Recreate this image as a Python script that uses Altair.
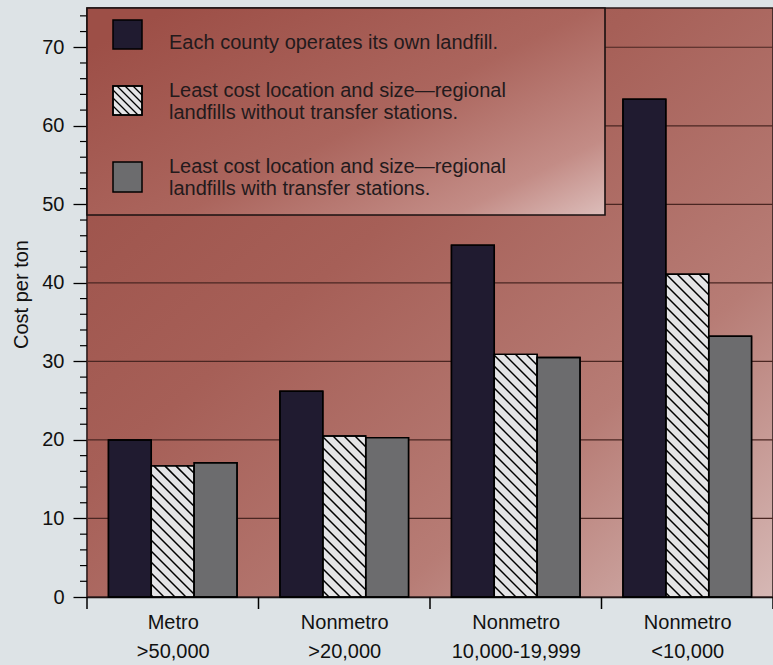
import altair as alt
import pandas as pd

# ---------------- data ----------------
categories = ["Metro", "Nonmetro", "Nonmetro", "Nonmetro"]
category_sub = [">50,000", ">20,000", "10,000-19,999", "<10,000"]
series = [
    "Each county operates its own landfill.",
    "Least cost location and size\u2014regional landfills without transfer stations.",
    "Least cost location and size\u2014regional landfills with transfer stations.",
]
own_landfill = [20.0, 26.2, 44.8, 63.4]
regional_no_transfer = [16.7, 20.5, 30.9, 41.1]
regional_transfer = [17.1, 20.3, 30.5, 33.2]
y_ticks = [0, 10, 20, 30, 40, 50, 60, 70]
y_minor = [2, 4, 6, 8, 12, 14, 16, 18, 22, 24, 26, 28, 32, 34, 36, 38,
           42, 44, 46, 48, 52, 54, 56, 58, 62, 64, 66, 68, 72, 74]
grid_values = [10, 20, 30, 40, 50, 60, 70]

legend_lines = [
    ["Each county operates its own landfill."],
    ["Least cost location and size\u2014regional", "landfills without transfer stations."],
    ["Least cost location and size\u2014regional", "landfills with transfer stations."],
]

# ---------------- layout / style ----------------
W, H = 686, 589
Y_MAX = 75
N = len(categories)
KX = W / N          # px per x unit
KY = H / Y_MAX      # px per y unit
BAR_W = 0.25
FILLS = ["#201b30", "#e4e4e6", "#6c6c6e"]
X_DOM = [-0.5, N - 0.5]

all_values = [own_landfill, regional_no_transfer, regional_transfer]
rows = []
for si, vals in enumerate(all_values):
    for ci, v in enumerate(vals):
        x0 = ci - 1.5 * BAR_W + si * BAR_W
        rows.append({"cat": ci, "series": series[si], "value": v,
                     "x0": x0, "x1": x0 + BAR_W})
bars_df = pd.DataFrame(rows)


def hatch(X0, X1, Y0, Y1, step):
    """Diagonal lines X + Y = c clipped to a rectangle (pixel space, y up)."""
    segs = []
    c = (int((X0 + Y0) // step) + 1) * step
    while c < X1 + Y1:
        xs = max(X0, c - Y1)
        xe = min(X1, c - Y0)
        if xe > xs:
            segs.append((xs, c - xs, xe, c - xe))
        c += step
    return segs


hatch_rows = []
for _, r in bars_df[bars_df["series"] == series[1]].iterrows():
    for xs, ys, xe, ye in hatch((r.x0 - X_DOM[0]) * KX, (r.x1 - X_DOM[0]) * KX,
                                0, r.value * KY, 11):
        hatch_rows.append({"x0": xs / KX + X_DOM[0], "value": ys / KY,
                           "x1": xe / KX + X_DOM[0], "value2": ye / KY})
hatch_df = pd.DataFrame(hatch_rows)

xs_scale = alt.Scale(domain=X_DOM, nice=False, zero=False)
ys_scale = alt.Scale(domain=[0, Y_MAX], nice=False, zero=True)

label_expr = "[" + ",".join(
    f"['{a}','{b}']" for a, b in zip(categories, category_sub)) + "][datum.value]"

x_axis = alt.Axis(values=list(range(N)), labelExpr=label_expr, ticks=False,
                  tickSize=0, labelPadding=15, labelFontSize=20,
                  labelLineHeight=29, labelColor="#111111",
                  domainColor="black", domainWidth=1.5, grid=False,
                  title=None, labelFlush=False, labelOverlap=False)
y_axis = alt.Axis(values=y_ticks, tickSize=14, tickColor="black",
                  tickWidth=1.3, domainColor="black", domainWidth=1.5,
                  labelFontSize=20, labelPadding=9, labelColor="#111111",
                  grid=False, title="Cost per ton", titleFontSize=20,
                  titleFontWeight="normal", titleColor="#111111",
                  titleX=-66, titleY=286, titleAngle=270,
                  titleAlign="center", titleBaseline="middle")


def X(field):
    return alt.X(field, scale=xs_scale, axis=x_axis)


def Y(field):
    return alt.Y(field, scale=ys_scale, axis=y_axis)


one = pd.DataFrame({"a": [0]})

# background of plot area
bg = alt.Chart(one).mark_rect(
    color=alt.LinearGradient(
        gradient="linear", x1=0, y1=0, x2=1, y2=1,
        stops=[alt.GradientStop(color="#9a4e46", offset=0),
               alt.GradientStop(color="#a65f57", offset=0.4),
               alt.GradientStop(color="#b77c75", offset=0.72),
               alt.GradientStop(color="#d6b8b5", offset=1)]),
    stroke="#2a1a1a", strokeWidth=1.5,
).encode(x=alt.value(0), x2=alt.value(W), y=alt.value(0), y2=alt.value(H))

grid = alt.Chart(pd.DataFrame({"value": grid_values})).mark_rule(
    color="#4a2622", strokeWidth=1.2
).encode(y=Y("value:Q"), x=alt.value(0), x2=alt.value(W))

bars = alt.Chart(bars_df).mark_bar(stroke="black", strokeWidth=1.4).encode(
    x=X("x0:Q"), x2="x1:Q",
    y=Y("value:Q"), y2=alt.datum(0),
    color=alt.Color("series:N", scale=alt.Scale(domain=series, range=FILLS),
                    legend=None),
)

hatch_lines = alt.Chart(hatch_df).mark_rule(color="black", strokeWidth=1.5).encode(
    x=X("x0:Q"), x2="x1:Q", y=Y("value:Q"), y2="value2:Q",
)

outlines = alt.Chart(bars_df).mark_bar(fillOpacity=0, stroke="black",
                                        strokeWidth=1.4).encode(
    x=X("x0:Q"), x2="x1:Q", y=Y("value:Q"), y2=alt.datum(0),
)

minor = alt.Chart(pd.DataFrame({"value": y_minor})).mark_rule(
    color="black", strokeWidth=1.2
).encode(y=Y("value:Q"), x=alt.value(-7), x2=alt.value(0))

bounds = [i - 0.5 for i in range(N + 1)]
xticks = alt.Chart(pd.DataFrame({"x0": bounds})).mark_rule(
    color="black", strokeWidth=1.5
).encode(x=X("x0:Q"), y=alt.value(H), y2=alt.value(H + 12))

# ---------------- legend ----------------
LB = dict(x0=0, x1=518, y0=0, y1=207)
legend_box = alt.Chart(one).mark_rect(
    color=alt.LinearGradient(
        gradient="linear", x1=0, y1=0.2, x2=1, y2=1,
        stops=[alt.GradientStop(color="#9d4f47", offset=0),
               alt.GradientStop(color="#ab655d", offset=0.5),
               alt.GradientStop(color="#c38c86", offset=0.82),
               alt.GradientStop(color="#dcbdba", offset=1)]),
    stroke="#1a1010", strokeWidth=1.6,
).encode(x=alt.value(LB["x0"]), x2=alt.value(LB["x1"]),
         y=alt.value(LB["y0"]), y2=alt.value(LB["y1"]))

sym_x = (26, 55)
sym_y = [(12, 41), (78, 107), (154, 184)]
text_y = [41, 89, 165]
legend_layers = [legend_box]
for i in range(3):
    legend_layers.append(
        alt.Chart(one).mark_rect(color=FILLS[i], stroke="black", strokeWidth=1.5)
        .encode(x=alt.value(sym_x[0]), x2=alt.value(sym_x[1]),
                y=alt.value(sym_y[i][0]), y2=alt.value(sym_y[i][1])))
    legend_layers.append(
        alt.Chart(one).mark_text(
            text=legend_lines[i], align="left", baseline="alphabetic",
            fontSize=20, lineHeight=22, color="#231a1c")
        .encode(x=alt.value(82), y=alt.value(text_y[i])))

# hatch lines of the legend symbol, one rule layer per line
for xs, ys, xe, ye in hatch(sym_x[0], sym_x[1], -sym_y[1][1], -sym_y[1][0], 8):
    legend_layers.append(
        alt.Chart(one).mark_rule(color="black", strokeWidth=1.3)
        .encode(x=alt.value(xs), y=alt.value(-ys), x2=alt.value(xe), y2=alt.value(-ye)))
legend_layers.append(
    alt.Chart(one).mark_rect(fillOpacity=0, stroke="black", strokeWidth=1.5)
    .encode(x=alt.value(sym_x[0]), x2=alt.value(sym_x[1]),
            y=alt.value(sym_y[1][0]), y2=alt.value(sym_y[1][1])))

chart = alt.layer(
    bg, grid, bars, hatch_lines, outlines, minor, xticks, *legend_layers,
).properties(
    width=W, height=H,
    padding={"left": 87, "top": 8, "right": 0, "bottom": 68},
    autosize=alt.AutoSizeParams(type="none"),
).configure(
    background="#dde3e6",
    font="Liberation Sans",
).configure_view(stroke=None)

chart.save("out.html", embed_options={"renderer": "svg", "actions": False})
